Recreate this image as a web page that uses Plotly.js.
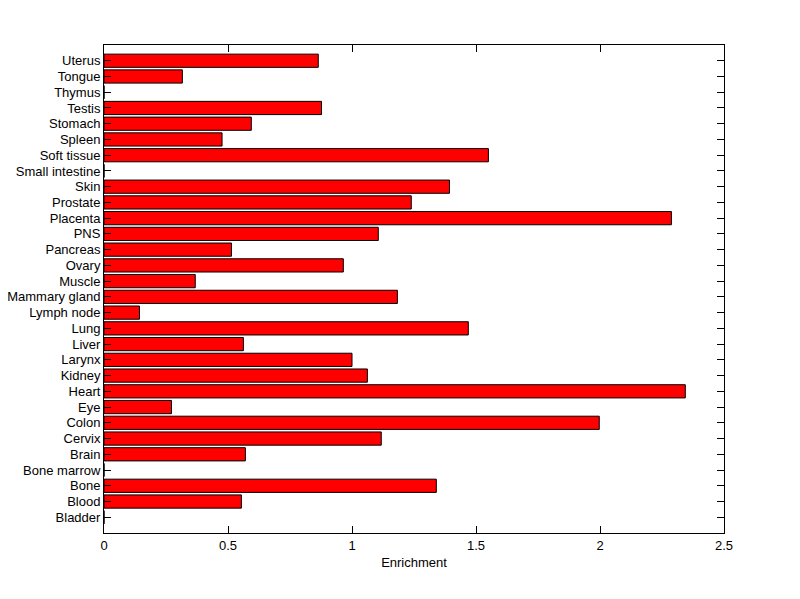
<!DOCTYPE html>
<html>
<head>
<meta charset="utf-8">
<script src="https://cdn.plot.ly/plotly-3.0.1.min.js"></script>
<style>html,body{margin:0;padding:0;background:#fff;}#chart{width:800px;height:599px;}</style>
</head>
<body>
<div id="chart"></div>
<script>
const tissues = ["Bladder","Blood","Bone","Bone marrow","Brain","Cervix","Colon","Eye","Heart","Kidney","Larynx","Liver","Lung","Lymph node","Mammary gland","Muscle","Ovary","Pancreas","PNS","Placenta","Prostate","Skin","Small intestine","Soft tissue","Spleen","Stomach","Testis","Thymus","Tongue","Uterus"];
const enrichment = [0, 0.554, 1.340, 0, 0.570, 1.118, 1.997, 0.272, 2.344, 1.062, 1.000, 0.562, 1.469, 0.143, 1.183, 0.368, 0.965, 0.514, 1.106, 2.288, 1.239, 1.393, 0, 1.550, 0.476, 0.594, 0.877, 0, 0.316, 0.864];
const xTickVals = [0, 0.5, 1, 1.5, 2, 2.5];
const xTickText = ["0", "0.5", "1", "1.5", "2", "2.5"];

const font = {family: "Liberation Sans, Arial, sans-serif", size: 13, color: "#000"};

Plotly.newPlot("chart", [{
  type: "bar",
  orientation: "h",
  y: tissues,
  x: enrichment,
  width: 0.84,
  marker: {color: "#ff0000", line: {color: "#000", width: 1}},
  hoverinfo: "x+y"
}], {
  width: 800, height: 599,
  margin: {l: 104, r: 76, t: 45, b: 66, pad: 0},
  paper_bgcolor: "#fff", plot_bgcolor: "#fff",
  showlegend: false,
  font: font,
  xaxis: {
    range: [0, 2.5], tickvals: xTickVals, ticktext: xTickText,
    ticks: "inside", ticklen: 7, tickcolor: "#000", tickwidth: 1,
    showline: true, linecolor: "#000", linewidth: 1, mirror: "ticks",
    showgrid: false, zeroline: false,
    tickfont: font,
    title: {text: "Enrichment", font: font, standoff: 6}
  },
  yaxis: {
    type: "category", range: [-1, 30],
    tickvals: tissues, ticktext: tissues,
    ticks: "inside", ticklen: 7, tickcolor: "#000", tickwidth: 1,
    showline: true, linecolor: "#000", linewidth: 1, mirror: "ticks",
    showgrid: false, zeroline: false,
    tickfont: font, automargin: false
  }
}, {displayModeBar: false, staticPlot: true});
</script>
</body>
</html>
